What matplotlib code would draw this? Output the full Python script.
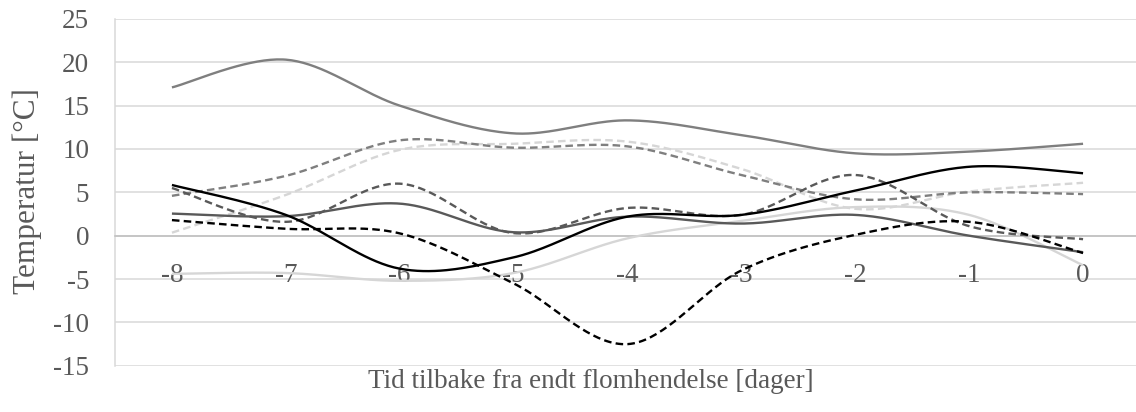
import numpy as np
import matplotlib
matplotlib.use("Agg")
import matplotlib.pyplot as plt

# ---- data ----
days = [-8, -7, -6, -5, -4, -3, -2, -1, 0]
day_labels = ["-8", "-7", "-6", "-5", "-4", "-3", "-2", "-1", "0"]

s_gray_solid = [17.1, 20.3, 15.0, 11.8, 13.3, 11.6, 9.5, 9.7, 10.6]
s_light_dashed = [0.35, 4.7, 9.9, 10.6, 10.85, 7.7, 3.1, 5.1, 6.1]
s_gray_dashed = [4.6, 6.9, 11.0, 10.15, 10.3, 7.0, 4.2, 5.0, 4.8]
s_light_solid = [-4.4, -4.3, -5.2, -4.3, -0.3, 1.7, 3.3, 2.4, -3.4]
s_dark_dashed = [5.5, 1.6, 6.0, 0.3, 3.2, 2.4, 7.0, 1.1, -0.4]
s_dark_solid = [2.55, 2.25, 3.7, 0.4, 2.2, 1.4, 2.4, 0.0, -1.9]
s_black_dashed = [1.8, 0.8, 0.27, -5.5, -12.5, -4.0, 0.1, 1.6, -2.0]
s_black_solid = [5.85, 2.4, -3.8, -2.5, 2.2, 2.4, 5.2, 7.95, 7.2]

y_ticks = [25, 20, 15, 10, 5, 0, -5, -10, -15]
y_label = "Temperatur [°C]"
x_label = "Tid tilbake fra endt flomhendelse [dager]"


def smooth(x, y, n=40):
    """Excel-like smoothed line (Catmull-Rom / Bezier with 1/6 tension)."""
    P = np.column_stack([x, y]).astype(float)
    pts = []
    m = len(P)
    for i in range(m - 1):
        p0 = P[i - 1] if i > 0 else P[i]
        p1 = P[i]
        p2 = P[i + 1]
        p3 = P[i + 2] if i + 2 < m else P[i + 1]
        b1 = p1 + (p2 - p0) / 6.0
        b2 = p2 - (p3 - p1) / 6.0
        t = np.linspace(0, 1, n)[:, None]
        seg = ((1 - t) ** 3) * p1 + 3 * ((1 - t) ** 2) * t * b1 + 3 * (1 - t) * t ** 2 * b2 + t ** 3 * p2
        pts.append(seg if i == 0 else seg[1:])
    pts = np.vstack(pts)
    return pts[:, 0], pts[:, 1]


plt.rcParams['font.family'] = ['Liberation Serif', 'DejaVu Serif']
TXT = '#595959'
FS = 19.5

fig = plt.figure(figsize=(11.36, 4.12), dpi=100)
ax = fig.add_axes([115 / 1136, 46.2 / 412, (1140 - 115) / 1136, (393.1 - 46.2) / 412])
ax.set_xlim(-8.5, 0.5)
ax.set_ylim(-15, 25)

# gridlines
for v in y_ticks:
    ax.axhline(v, color='#d9d9d9', lw=1.1, zorder=0)

series = [
    (s_gray_solid, '#7f7f7f', '-'),
    (s_light_dashed, '#d6d6d6', '--'),
    (s_gray_dashed, '#7f7f7f', '--'),
    (s_light_solid, '#d6d6d6', '-'),
    (s_dark_dashed, '#595959', '--'),
    (s_dark_solid, '#595959', '-'),
    (s_black_dashed, '#000000', '--'),
    (s_black_solid, '#000000', '-'),
]
for vals, col, ls in series:
    xs, ys = smooth(days, vals)
    line, = ax.plot(xs, ys, color=col, lw=1.7, solid_capstyle='butt', zorder=3)
    if ls == '--':
        line.set_linestyle((0, (3.2, 1.8)))
        line.set_dash_capstyle('butt')

for s in ['top', 'right']:
    ax.spines[s].set_visible(False)
ax.spines['left'].set_color('#d9d9d9')
ax.spines['left'].set_linewidth(1.1)
ax.spines['bottom'].set_position(('data', 0))
ax.spines['bottom'].set_color('#bfbfbf')
ax.spines['bottom'].set_linewidth(1.1)

ax.set_yticks(y_ticks)
ax.set_yticklabels([str(v) for v in y_ticks])
ax.set_xticks(days)
ax.set_xticklabels(day_labels)
ax.tick_params(axis='y', length=0, pad=18.5, labelsize=FS, labelcolor=TXT)
ax.tick_params(axis='x', length=0, pad=19.5, labelsize=FS, labelcolor=TXT)

fig.text(27 / 1136, 1 - 191.5 / 412, y_label, rotation=90, ha='center', va='center',
         fontsize=22.5, color=TXT)
fig.text(591 / 1136, 1 - 381 / 412, x_label, ha='center', va='center',
         fontsize=FS, color=TXT)

fig.savefig('out.png', dpi=100)
